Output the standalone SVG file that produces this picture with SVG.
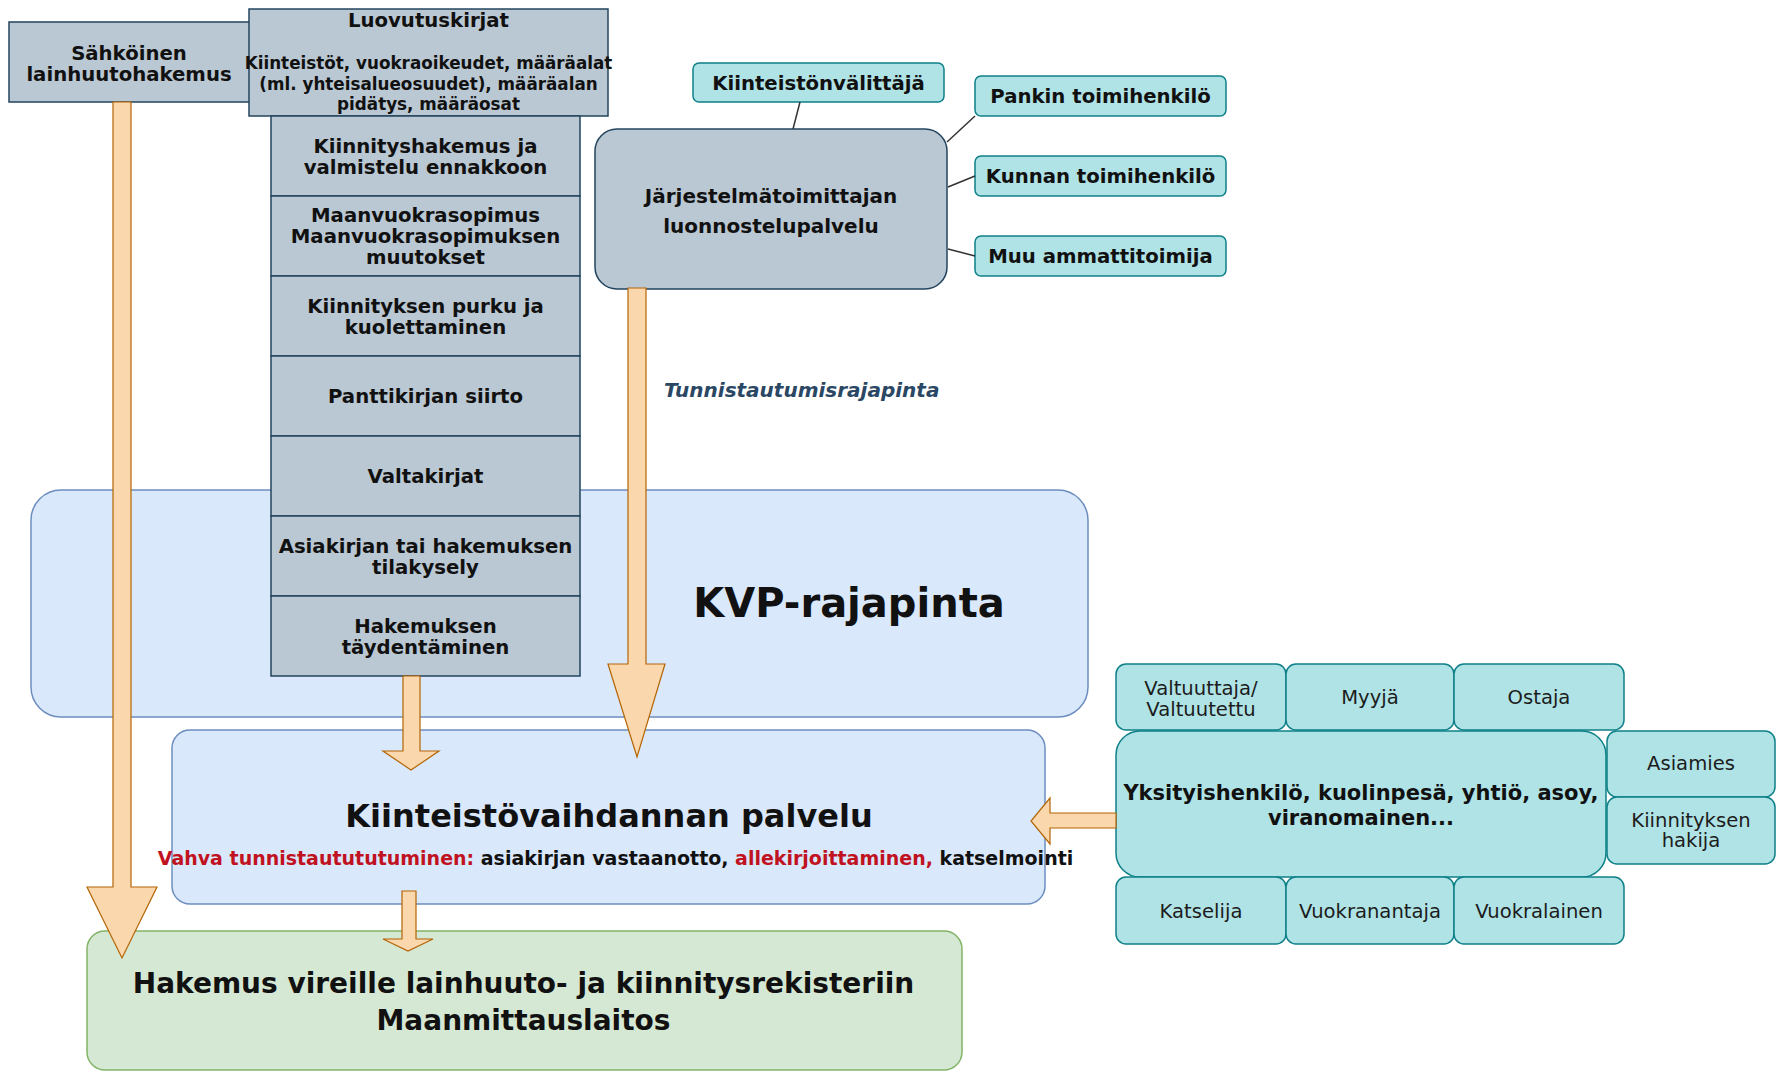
<svg xmlns="http://www.w3.org/2000/svg" width="1776" height="1072" viewBox="0 0 1776 1072">
<style>
text{font-family:"DejaVu Sans",Verdana,sans-serif;fill:#111;text-anchor:middle}
.b{font-weight:bold;font-size:19.7px}
.s{font-weight:bold;font-size:16.8px}
.r{font-size:19.6px;fill:#1c1c1c}
.gray{fill:#bac8d3;stroke:#23445d;stroke-width:1.5}
.cyan{fill:#b0e3e6;stroke:#0e8088;stroke-width:1.5}
.blue{fill:#dae8fc;stroke:#6c8ebf;stroke-width:1.5}
.green{fill:#d5e8d4;stroke:#82b366;stroke-width:1.5}
.arrow{fill:#fad7ac;stroke:#b46504;stroke-width:1.2}
.link{stroke:#333;stroke-width:1.5;fill:none}
.red{fill:#c0121f}
</style>
<rect width="1776" height="1072" fill="#fff"/>

<g id="kvp-rajapinta">
<rect class="blue" x="31" y="490" width="1057" height="227" rx="30"/>
<text x="849" y="617" style="font-weight:bold;font-size:40px">KVP-rajapinta</text>
</g>

<g id="kiinteistovaihdannan-palvelu">
<rect class="blue" x="172" y="730" width="873" height="174" rx="18"/>
<text x="609" y="827" style="font-weight:bold;font-size:32px">Kiinteistövaihdannan palvelu</text>
<text x="615.5" y="865" style="font-weight:bold;font-size:19px"><tspan class="red">Vahva tunnistautututuminen:</tspan> asiakirjan vastaanotto, <tspan class="red">allekirjoittaminen,</tspan> katselmointi</text>
</g>

<g id="hakemus-vireille">
<rect class="green" x="87" y="931" width="875" height="139" rx="18"/>
<text x="523.5" y="993" style="font-weight:bold;font-size:28px">Hakemus vireille lainhuuto- ja kiinnitysrekisteriin</text>
<text x="523.5" y="1030" style="font-weight:bold;font-size:28px">Maanmittauslaitos</text>
</g>

<g id="sahkoinen-lainhuutohakemus">
<rect class="gray" x="9" y="22" width="250" height="80"/>
<text class="b" x="129" y="60">Sähköinen</text>
<text class="b" x="129" y="81">lainhuutohakemus</text>
</g>

<g id="luovutuskirjat">
<rect class="gray" x="249" y="9" width="359" height="107"/>
<text class="b" x="428.5" y="27">Luovutuskirjat</text>
<text class="s" x="428.5" y="69">Kiinteistöt, vuokraoikeudet, määräalat</text>
<text class="s" x="428.5" y="90">(ml. yhteisalueosuudet), määräalan</text>
<text class="s" x="428.5" y="110">pidätys, määräosat</text>
</g>

<g id="kiinnityshakemus">
<rect class="gray" x="271" y="116" width="309" height="80"/>
<text class="b" x="425.5" y="152.5">Kiinnityshakemus ja</text>
<text class="b" x="425.5" y="173.5">valmistelu ennakkoon</text>
</g>
<g id="maanvuokrasopimus">
<rect class="gray" x="271" y="196" width="309" height="80"/>
<text class="b" x="425.5" y="222">Maanvuokrasopimus</text>
<text class="b" x="425.5" y="243">Maanvuokrasopimuksen</text>
<text class="b" x="425.5" y="264">muutokset</text>
</g>
<g id="kiinnityksen-purku">
<rect class="gray" x="271" y="276" width="309" height="80"/>
<text class="b" x="425.5" y="312.5">Kiinnityksen purku ja</text>
<text class="b" x="425.5" y="333.5">kuolettaminen</text>
</g>
<g id="panttikirjan-siirto">
<rect class="gray" x="271" y="356" width="309" height="80"/>
<text class="b" x="425.5" y="403">Panttikirjan siirto</text>
</g>
<g id="valtakirjat">
<rect class="gray" x="271" y="436" width="309" height="80"/>
<text class="b" x="425.5" y="483">Valtakirjat</text>
</g>
<g id="tilakysely">
<rect class="gray" x="271" y="516" width="309" height="80"/>
<text class="b" x="425.5" y="552.5">Asiakirjan tai hakemuksen</text>
<text class="b" x="425.5" y="573.5">tilakysely</text>
</g>
<g id="taydentaminen">
<rect class="gray" x="271" y="596" width="309" height="80"/>
<text class="b" x="425.5" y="632.5">Hakemuksen</text>
<text class="b" x="425.5" y="653.5">täydentäminen</text>
</g>

<g id="luonnostelupalvelu">
<rect class="gray" x="595" y="129" width="352" height="160" rx="22"/>
<text x="771" y="203" style="font-weight:bold;font-size:20px">Järjestelmätoimittajan</text>
<text x="771" y="233" style="font-weight:bold;font-size:20px">luonnostelupalvelu</text>
</g>

<g id="kiinteistonvalittaja">
<rect class="cyan" x="693" y="63" width="251" height="39" rx="6"/>
<text class="b" x="818.5" y="89.5">Kiinteistönvälittäjä</text>
</g>
<g id="pankin-toimihenkilo">
<rect class="cyan" x="975" y="76" width="251" height="40" rx="6"/>
<text class="b" x="1100.5" y="103">Pankin toimihenkilö</text>
</g>
<g id="kunnan-toimihenkilo">
<rect class="cyan" x="975" y="156" width="251" height="40" rx="6"/>
<text class="b" x="1100.5" y="183">Kunnan toimihenkilö</text>
</g>
<g id="muu-ammattitoimija">
<rect class="cyan" x="975" y="236" width="251" height="40" rx="6"/>
<text class="b" x="1100.5" y="263">Muu ammattitoimija</text>
</g>

<g id="tunnistautumisrajapinta">
<text x="664" y="397" style="text-anchor:start;font-weight:bold;font-style:italic;font-size:20px;fill:#2a4764">Tunnistautumisrajapinta</text>
</g>

<g id="valtuuttaja">
<rect class="cyan" x="1116" y="664" width="170" height="66" rx="10"/>
<text class="r" x="1201" y="695">Valtuuttaja/</text>
<text class="r" x="1201" y="716">Valtuutettu</text>
</g>
<g id="myyja">
<rect class="cyan" x="1286" y="664" width="168" height="66" rx="10"/>
<text class="r" x="1370" y="704">Myyjä</text>
</g>
<g id="ostaja">
<rect class="cyan" x="1454" y="664" width="170" height="66" rx="10"/>
<text class="r" x="1539" y="704">Ostaja</text>
</g>
<g id="yksityishenkilo">
<rect class="cyan" x="1116" y="731" width="490" height="146" rx="24"/>
<text x="1361" y="800" style="font-weight:bold;font-size:21px">Yksityishenkilö, kuolinpesä, yhtiö, asoy,</text>
<text x="1361" y="825" style="font-weight:bold;font-size:21px">viranomainen...</text>
</g>
<g id="asiamies">
<rect class="cyan" x="1607" y="731" width="168" height="66" rx="10"/>
<text class="r" x="1691" y="770">Asiamies</text>
</g>
<g id="kiinnityksen-hakija">
<rect class="cyan" x="1607" y="797" width="168" height="67" rx="10"/>
<text class="r" x="1691" y="827">Kiinnityksen</text>
<text class="r" x="1691" y="847">hakija</text>
</g>
<g id="katselija">
<rect class="cyan" x="1116" y="877" width="170" height="67" rx="10"/>
<text class="r" x="1201" y="918">Katselija</text>
</g>
<g id="vuokranantaja">
<rect class="cyan" x="1286" y="877" width="168" height="67" rx="10"/>
<text class="r" x="1370" y="918">Vuokranantaja</text>
</g>
<g id="vuokralainen">
<rect class="cyan" x="1454" y="877" width="170" height="67" rx="10"/>
<text class="r" x="1539" y="918">Vuokralainen</text>
</g>

<g id="connectors">
<line class="link" x1="800" y1="102" x2="793" y2="129"/>
<line class="link" x1="975" y1="116" x2="947" y2="142"/>
<line class="link" x1="975" y1="176" x2="948" y2="187"/>
<line class="link" x1="975" y1="256" x2="948" y2="249"/>
<polygon class="arrow" points="113,102 131,102 131,887 157,887 122,958 87,887 113,887"/>
<polygon class="arrow" points="628,288 646,288 646,664 665,664 637,757 608,664 628,664"/>
<polygon class="arrow" points="403,676 420,676 420,751 439,751 411,770 383,751 403,751"/>
<polygon class="arrow" points="402,891 416,891 416,939 433,939 408,951 383,939 402,939"/>
<polygon class="arrow" points="1116,813 1050,813 1050,798 1031,821 1050,844 1050,828 1116,828"/>
</g>
</svg>
